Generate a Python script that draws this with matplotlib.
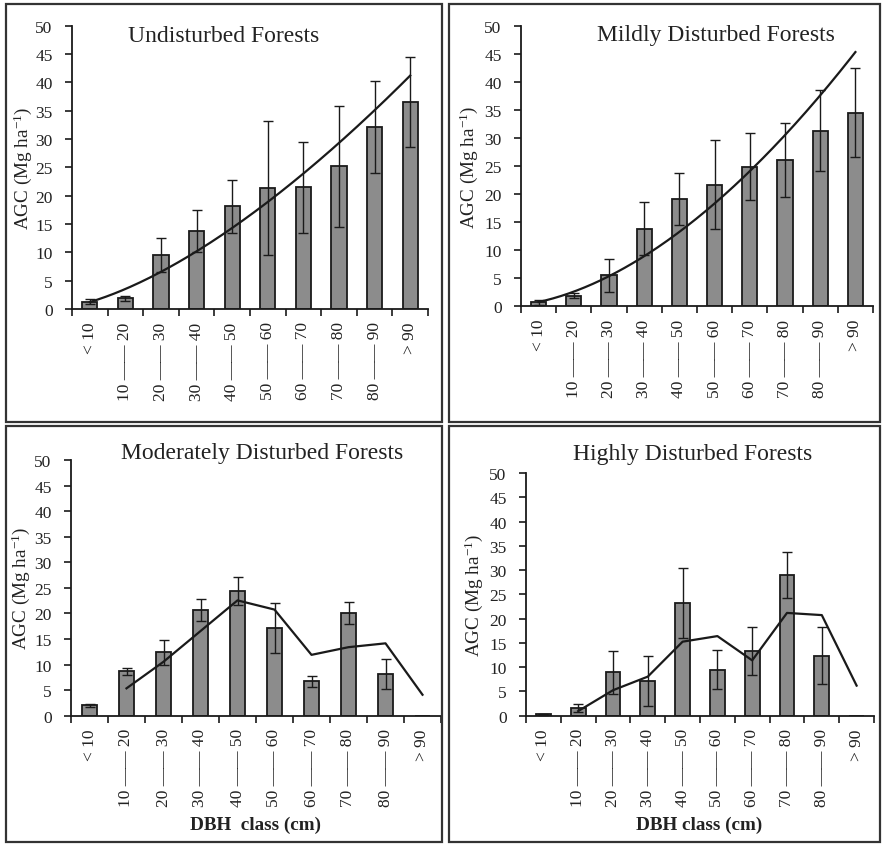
import numpy as np
import matplotlib
matplotlib.use('Agg')
import matplotlib.pyplot as plt
from matplotlib.patches import Rectangle

plt.rcParams['font.family'] = ['Liberation Serif', 'DejaVu Serif']
plt.rcParams['mathtext.fontset'] = 'custom'
plt.rcParams['mathtext.rm'] = 'Liberation Serif'
plt.rcParams['mathtext.it'] = 'Liberation Serif:italic'

dash = '\u2014\u2014'
classes = ['< 10', f'10 {dash} 20', f'20 {dash} 30', f'30 {dash} 40', f'40 {dash} 50',
           f'50 {dash} 60', f'60 {dash} 70', f'70 {dash} 80', f'80 {dash} 90', '> 90']

# mean AGC (Mg/ha) and error per DBH class
undisturbed = [1.3, 1.9, 9.5, 13.8, 18.1, 21.35, 21.5, 25.2, 32.1, 36.5]
undisturbed_err = [0.5, 0.4, 3.0, 3.7, 4.6, 11.9, 8.0, 10.7, 8.1, 7.9]
mild = [0.7, 1.9, 5.5, 13.8, 19.1, 21.7, 24.9, 26.0, 31.3, 34.5]
mild_err = [0.4, 0.5, 2.9, 4.7, 4.6, 7.9, 6.0, 6.6, 7.2, 7.9]
moderate = [2.0, 8.7, 12.4, 20.7, 24.4, 17.1, 6.7, 20.1, 8.2, 0.0]
moderate_err = [0.3, 0.7, 2.4, 2.2, 2.7, 4.9, 1.1, 2.2, 2.9, 0.0]
high = [0.3, 1.6, 8.9, 7.2, 23.3, 9.5, 13.3, 29.05, 12.4, 0.0]
high_err = [0.1, 0.8, 4.5, 5.1, 7.2, 4.0, 5.0, 4.7, 5.9, 0.0]

titles = ['Undisturbed Forests', 'Mildly Disturbed Forests',
          'Moderately Disturbed Forests', 'Highly Disturbed Forests']

W, H = 882, 845
fig = plt.figure(figsize=(W / 100, H / 100), dpi=100)

def px(l, b, r, t):
    return [l / W, 1 - b / H, (r - l) / W, (b - t) / H]

# panel boxes
for (l, t, r, b) in [(6, 5, 442, 423), (449, 5, 880, 423), (6, 427, 442, 843), (449, 427, 880, 843)]:
    fig.patches.append(Rectangle((l / W, 1 - b / H), (r - l) / W, (b - t) / H,
                                 transform=fig.transFigure, fill=False,
                                 edgecolor='#333333', lw=1.6))

panels = [
    (px(72, 310, 428, 26.7), undisturbed, undisturbed_err, 'power', (224, 36), 23, None),
    (px(521, 307.3, 873, 26.7), mild, mild_err, 'power', (716, 35), 469, None),
    (px(71, 716.7, 441, 461), moderate, moderate_err, 'mavg', (262, 453), 21, ('DBH  class (cm)', 256)),
    (px(526, 716.7, 874, 474), high, high_err, 'mavg', (693, 455), 474, ('DBH class (cm)', 699)),
]

x = np.arange(1, 11)
for i, (pos, vals, errs, trend, tpos, ylx, xlab) in enumerate(panels):
    ax = fig.add_axes(pos)
    vals = np.array(vals)
    errs = np.array(errs)
    ax.bar(x, vals, width=0.43, color='#8c8c8c', edgecolor='#1a1a1a', linewidth=1.3, zorder=2)
    m = errs > 0
    ax.errorbar(x[m], vals[m], yerr=errs[m], fmt='none', ecolor='#1a1a1a',
                elinewidth=1, capsize=3.6, capthick=1, zorder=3)
    if trend == 'power':
        b, a = np.polyfit(np.log(x), np.log(vals), 1)
        xs = np.linspace(1, 10, 200)
        ax.plot(xs, np.exp(a) * xs ** b, color='#1a1a1a', lw=1.6, zorder=4)
    else:
        ma = np.convolve(vals, [0.5, 0.5], mode='valid')
        ax.plot(x[1:], ma, color='#1a1a1a', lw=1.6, zorder=4)

    ax.set_xlim(0.5, 10.5)
    ax.set_ylim(0, 50)
    ax.set_yticks(range(0, 51, 5))
    ax.set_xticks(np.arange(0.5, 11, 1))
    ax.set_xticklabels([])
    ax.set_xticks(x, minor=True)
    ax.set_xticklabels(classes, minor=True, rotation=90)
    ax.tick_params(axis='x', which='major', direction='out', length=5, width=1.2, color='#1a1a1a')
    ax.tick_params(axis='x', which='minor', length=0, pad=9, labelsize=12.5, labelcolor='#222222')
    ax.tick_params(axis='y', direction='out', length=5, width=1.2, pad=9,
                   labelsize=12.5, labelcolor='#222222', color='#1a1a1a')
    for s in ['top', 'right']:
        ax.spines[s].set_visible(False)
    for s in ['left', 'bottom']:
        ax.spines[s].set_linewidth(1.3)
        ax.spines[s].set_color('#1a1a1a')

    fig.text(tpos[0] / W, 1 - tpos[1] / H, titles[i], ha='center', va='center',
             fontsize=17, color='#222222')
    yc = pos[1] + pos[3] / 2
    fig.text(ylx / W, yc, 'AGC (Mg ha$^{\\mathrm{-1}}$)', rotation=90, ha='center', va='center',
             fontsize=13.8, color='#222222')
    if xlab:
        fig.text(xlab[1] / W, 1 - 825 / H, xlab[0], ha='center', va='center',
                 fontsize=13.8, fontweight='bold', color='#222222')

fig.savefig('out.png', dpi=100)
